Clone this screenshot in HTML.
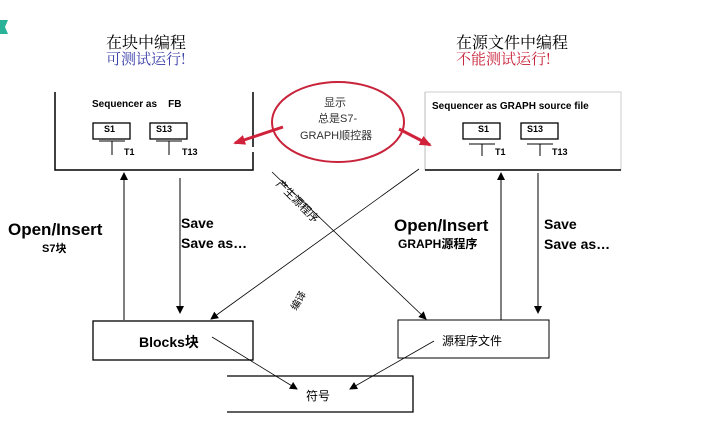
<!DOCTYPE html>
<html><head><meta charset="utf-8"><style>
body{margin:0;width:702px;height:437px;background:#fff;overflow:hidden;position:relative;font-family:"Liberation Sans","Noto Sans CJK SC",sans-serif}
.t{position:absolute;white-space:nowrap}
.b{font-weight:bold}
.cj{font-family:"Noto Serif CJK SC","Noto Sans CJK SC",serif}
</style></head><body>
<svg width="702" height="437" style="position:absolute;left:0;top:0">
<defs>
<marker id="a" markerWidth="8" markerHeight="8" refX="7" refY="4" orient="auto" markerUnits="userSpaceOnUse"><path d="M0,0 L8,4 L0,8z" fill="#000"/></marker>
<marker id="r" markerWidth="12" markerHeight="10" refX="10" refY="5" orient="auto" markerUnits="userSpaceOnUse"><path d="M0,0 L12,5 L0,10z" fill="#d0223a"/></marker>
</defs>
<polygon points="0,20 8,20 5,27 8,34 0,34" fill="#2bb39a"/>
<!-- left box -->
<path d="M55,92 V170 H253 V152 M253,147 V92" fill="none" stroke="#000" stroke-width="1.5"/>
<!-- right box -->
<path d="M425,92 H621 V170" fill="none" stroke="#ccc" stroke-width="1"/>
<path d="M425,92 V170" fill="none" stroke="#bbb" stroke-width="1"/>
<path d="M425,170 H621" stroke="#000" stroke-width="1.5"/>
<!-- step boxes left -->
<rect x="93" y="123" width="37" height="16" fill="#fff" stroke="#000" stroke-width="1.3"/>
<path d="M99,141 H125 M112,141 V155" stroke="#000" stroke-width="1"/>
<rect x="150" y="123" width="37" height="16" fill="#fff" stroke="#000" stroke-width="1.3"/>
<path d="M156,141 H182 M169,141 V155" stroke="#000" stroke-width="1"/>
<!-- step boxes right -->
<rect x="463" y="123" width="37" height="16" fill="#fff" stroke="#000" stroke-width="1.3"/>
<path d="M469,144 H495 M482,144 V156" stroke="#000" stroke-width="1"/>
<rect x="521" y="123" width="37" height="16" fill="#fff" stroke="#000" stroke-width="1.3"/>
<path d="M527,144 H553 M540,144 V156" stroke="#000" stroke-width="1"/>
<!-- ellipse -->
<ellipse cx="338" cy="122" rx="66" ry="40" fill="none" stroke="#c8233a" stroke-width="2"/>
<line x1="283" y1="127" x2="235" y2="143" stroke="#d0223a" stroke-width="3" marker-end="url(#r)"/>
<line x1="399" y1="129" x2="430" y2="145" stroke="#d0223a" stroke-width="3" marker-end="url(#r)"/>
<!-- verticals -->
<line x1="124" y1="320" x2="124" y2="173" stroke="#000" marker-end="url(#a)"/>
<line x1="180" y1="178" x2="180" y2="313" stroke="#000" marker-end="url(#a)"/>
<line x1="501" y1="320" x2="501" y2="173" stroke="#000" marker-end="url(#a)"/>
<line x1="538" y1="173" x2="538" y2="313" stroke="#000" marker-end="url(#a)"/>
<!-- diagonals -->
<line x1="272" y1="172" x2="426" y2="319" stroke="#000" stroke-width="0.8" marker-end="url(#a)"/>
<line x1="419" y1="169" x2="211" y2="319" stroke="#000" stroke-width="0.8" marker-end="url(#a)"/>
<!-- bottom boxes -->
<rect x="93" y="321" width="160" height="39" fill="#fff" stroke="#000" stroke-width="1.3"/>
<rect x="398" y="320" width="151" height="38" fill="#fff" stroke="#000" stroke-width="1"/>
<path d="M227,376 H413 V412 H227" fill="#fff" stroke="#000" stroke-width="1.3"/>
<line x1="212" y1="337" x2="297" y2="389" stroke="#000" stroke-width="0.8" marker-end="url(#a)"/>
<line x1="434" y1="341" x2="350" y2="389" stroke="#000" stroke-width="0.8" marker-end="url(#a)"/>
</svg>
<div class="t cj" style="left:106px;top:30px;font-size:16px">在块中编程</div>
<div class="t cj" style="left:106px;top:48px;font-size:15px;color:#3a3fa8">可测试运行!</div>
<div class="t cj" style="left:456px;top:30px;font-size:16px">在源文件中编程</div>
<div class="t cj" style="left:456px;top:48px;font-size:15px;color:#c8233a">不能测试运行!</div>
<div class="t b" style="left:92px;top:99px;font-size:10px">Sequencer as &nbsp;&nbsp;&nbsp;FB</div>
<div class="t b" style="left:432px;top:101px;font-size:10px">Sequencer as GRAPH source file</div>
<div class="t b" style="left:104px;top:124px;font-size:9px">S1</div>
<div class="t b" style="left:156px;top:124px;font-size:9px">S13</div>
<div class="t b" style="left:124px;top:147px;font-size:9px">T1</div>
<div class="t b" style="left:182px;top:147px;font-size:9px">T13</div>
<div class="t b" style="left:478px;top:124px;font-size:9px">S1</div>
<div class="t b" style="left:527px;top:124px;font-size:9px">S13</div>
<div class="t b" style="left:495px;top:147px;font-size:9px">T1</div>
<div class="t b" style="left:552px;top:147px;font-size:9px">T13</div>
<div class="t" style="left:324px;top:94px;font-size:11px;color:#333">显示</div>
<div class="t" style="left:318px;top:110px;font-size:11px;color:#333">总是S7-</div>
<div class="t" style="left:300px;top:127px;font-size:11px;color:#333">GRAPH顺控器</div>
<div class="t" style="left:284px;top:176px;font-size:11px;transform:rotate(45deg);transform-origin:0 0">产生源程序</div>
<div class="t" style="left:286px;top:305px;font-size:10px;transform:rotate(-60deg);transform-origin:0 0">编译</div>
<div class="t b" style="left:8px;top:220px;font-size:17px">Open/Insert</div>
<div class="t b" style="left:42px;top:240px;font-size:11px">S7块</div>
<div class="t b" style="left:181px;top:213px;font-size:14px;line-height:20px">Save<br>Save as…</div>
<div class="t b" style="left:394px;top:216px;font-size:17px">Open/Insert</div>
<div class="t b" style="left:398px;top:235px;font-size:12px">GRAPH源程序</div>
<div class="t b" style="left:544px;top:214px;font-size:14px;line-height:20px">Save<br>Save as…</div>
<div class="t b" style="left:139px;top:332px;font-size:14px">Blocks块</div>
<div class="t" style="left:442px;top:332px;font-size:12px">源程序文件</div>
<div class="t" style="left:306px;top:387px;font-size:12px">符号</div>
</body></html>
